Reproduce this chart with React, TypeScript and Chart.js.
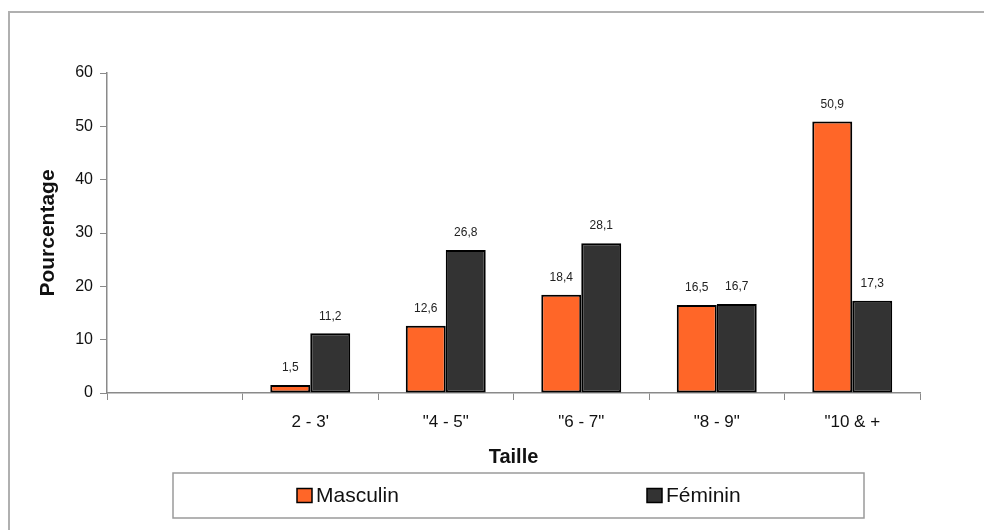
import React, { useEffect, useRef } from "react";
import { Chart, registerables } from "chart.js";

Chart.register(...registerables);

const categories: string[] = ["", "2 - 3'", '"4 - 5"', '"6 - 7"', '"8 - 9"', '"10 & +'];
const masculin: (number | null)[] = [null, 1.5, 12.6, 18.4, 16.5, 50.9];
const feminin: (number | null)[] = [null, 11.2, 26.8, 28.1, 16.7, 17.3];
const seriesNames: string[] = ["Masculin", "Féminin"];
const yTicks: number[] = [0, 10, 20, 30, 40, 50, 60];

const FONT = "'Liberation Sans', Arial, sans-serif";
const ORANGE = "#ff6628";
const DARK = "#333333";

const valueLabels = {
  id: "valueLabels",
  afterDatasetsDraw(chart: any) {
    const ctx = chart.ctx;
    ctx.save();
    ctx.font = `12px ${FONT}`;
    ctx.fillStyle = "#222";
    ctx.textAlign = "center";
    ctx.textBaseline = "middle";
    chart.data.datasets.forEach((ds: any, di: number) => {
      const meta = chart.getDatasetMeta(di);
      meta.data.forEach((el: any, i: number) => {
        const v = ds.data[i];
        if (v === null || v === undefined) return;
        const txt = String(v).replace(".", ",");
        ctx.fillText(txt, el.x, el.y - 17);
      });
    });
    ctx.restore();
  },
};

const boxLegend = {
  id: "boxLegend",
  afterDraw(chart: any) {
    const ctx = chart.ctx;
    ctx.save();
    const left = 173, top = 473, right = 864, bottom = 518;
    ctx.strokeStyle = "#9a9a9a";
    ctx.lineWidth = 1.5;
    ctx.strokeRect(left, top, right - left, bottom - top);
    const xs = [297, 647];
    const cy = (top + bottom) / 2;
    ctx.font = `21px ${FONT}`;
    ctx.textBaseline = "middle";
    ctx.textAlign = "left";
    chart.data.datasets.forEach((ds: any, i: number) => {
      const x = xs[i];
      ctx.fillStyle = ds.backgroundColor;
      ctx.fillRect(x, cy - 7, 15, 14);
      ctx.strokeStyle = "#000";
      ctx.lineWidth = 1.5;
      ctx.strokeRect(x, cy - 7, 15, 14);
      ctx.fillStyle = "#111";
      ctx.fillText(ds.label, x + 19, cy + 1);
    });
    ctx.restore();
  },
};

export default function App() {
  const ref = useRef<HTMLCanvasElement | null>(null);
  useEffect(() => {
    document.body.style.margin = "0";
    if (!ref.current) return;
    const chart = new Chart(ref.current, {
      type: "bar",
      data: {
        labels: categories,
        datasets: [
          {
            label: seriesNames[0],
            data: masculin,
            backgroundColor: ORANGE,
            borderColor: "#000",
            borderWidth: 2,
            borderSkipped: false,
            categoryPercentage: 0.59,
            barPercentage: 1,
          },
          {
            label: seriesNames[1],
            data: feminin,
            backgroundColor: DARK,
            borderColor: "#000",
            borderWidth: 2,
            borderSkipped: false,
            categoryPercentage: 0.59,
            barPercentage: 1,
          },
        ],
      },
      options: {
        animation: false,
        responsive: false,
        devicePixelRatio: 1,
        layout: { padding: { left: 0, right: 64, top: 73, bottom: 57 } },
        plugins: { legend: { display: false }, tooltip: { enabled: false } },
        scales: {
          x: {
            grid: {
              offset: true,
              drawOnChartArea: false,
              drawTicks: true,
              tickLength: 7,
              color: "#8a8a8a",
            },
            border: { color: "#8a8a8a", width: 1.5 },
            ticks: {
              font: { family: FONT, size: 17 },
              color: "#111",
              padding: 12,
              maxRotation: 0,
            },
            title: {
              display: true,
              text: "Taille",
              font: { family: FONT, size: 20, weight: "bold" },
              color: "#111",
              padding: { top: 0, bottom: 4 },
            },
            afterFit(scale: any) {
              scale.height = 80;
            },
          },
          y: {
            min: 0,
            max: 60,
            afterBuildTicks(scale: any) {
              scale.ticks = yTicks.map((v) => ({ value: v }));
            },
            grid: {
              drawOnChartArea: false,
              drawTicks: true,
              tickLength: 7,
              color: "#8a8a8a",
            },
            border: { color: "#8a8a8a", width: 1.5 },
            ticks: {
              font: { family: FONT, size: 16 },
              color: "#111",
              padding: 7,
            },
            title: {
              display: true,
              text: "Pourcentage",
              font: { family: FONT, size: 21, weight: "bold" },
              color: "#111",
              padding: { top: 36, bottom: 0 },
            },
            afterFit(scale: any) {
              scale.width = 107;
            },
          },
        },
      },
      plugins: [valueLabels, boxLegend],
    } as any);
    return () => chart.destroy();
  }, []);
  return (
    <div style={{ position: "relative", width: 984, height: 530, background: "#fff" }}>
      <canvas ref={ref} width={984} height={530} style={{ position: "absolute", left: 0, top: 0 }} />
      <div
        style={{
          position: "absolute",
          left: 8,
          top: 11,
          right: 0,
          bottom: 0,
          borderTop: "2px solid #b0b0b0",
          borderLeft: "2px solid #b0b0b0",
          pointerEvents: "none",
        }}
      />
    </div>
  );
}
